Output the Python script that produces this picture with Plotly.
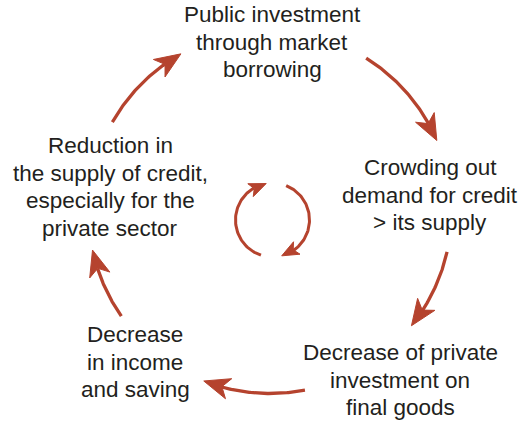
import math
import plotly.graph_objects as go

# ---- content ----
labels = [
    "Public investment<br>through market<br>borrowing",
    "Crowding out<br>demand for credit<br>&gt; its supply",
    "Decrease of private<br>investment on<br>final goods",
    "Decrease<br>in income<br>and saving",
    "Reduction in<br>the supply of credit,<br>especially for the<br>private sector",
]
label_x = [272, 430, 400, 135, 110]
label_y = [42, 195, 380, 362, 187]
LINE_GAP = 27.5

# outer cycle arrows: start / end angle (degrees clockwise from top)
outer_tail_deg = [32.0, 102.7, 168.9, 235.0, 299.7]
outer_tip_deg = [66.8, 128.8, 201.4, 257.9, 330.6]

# inner small cycle arrows
inner_tail_deg = [198.2, 21.7]
inner_tip_deg = [350.2, 165.6]

RED = "rgb(181,67,46)"
TXT = "#231F20"

OUTER = dict(cx=270, cy=212, r=181.5, L=26, hw=10.5, notch=7, lw=3.3)
INNER = dict(cx=272.5, cy=220, r=37, L=17, hw=7, notch=4, lw=3.0)


def pt(c, deg):
    t = math.radians(deg)
    return c["cx"] + c["r"] * math.sin(t), c["cy"] - c["r"] * math.cos(t)


fig = go.Figure()


def add_arrow(c, tail, tip):
    L, hw, notch, r = c["L"], c["hw"], c["notch"], c["r"]
    end_line = tip - math.degrees((L - notch) / r)
    n = 60
    xs, ys = [], []
    for i in range(n + 1):
        a = tail + (end_line - tail) * i / n
        x, y = pt(c, a)
        xs.append(x)
        ys.append(y)
    fig.add_trace(go.Scatter(x=xs, y=ys, mode="lines",
                             line=dict(color=RED, width=c["lw"]),
                             hoverinfo="skip", showlegend=False))
    px, py = pt(c, tip)
    bx, by = pt(c, tip - math.degrees(L / r))
    dx, dy = px - bx, py - by
    d = math.hypot(dx, dy)
    ux, uy = dx / d, dy / d
    nx, ny = -uy, ux
    c1 = (px - L * ux + hw * nx, py - L * uy + hw * ny)
    c2 = (px - L * ux - hw * nx, py - L * uy - hw * ny)
    nn = (px - (L - notch) * ux, py - (L - notch) * uy)
    fig.add_trace(go.Scatter(x=[px, c1[0], nn[0], c2[0], px],
                             y=[py, c1[1], nn[1], c2[1], py],
                             mode="lines", fill="toself", fillcolor=RED,
                             line=dict(color=RED, width=1),
                             hoverinfo="skip", showlegend=False))


for a, b in zip(outer_tail_deg, outer_tip_deg):
    add_arrow(OUTER, a, b)
for a, b in zip(inner_tail_deg, inner_tip_deg):
    add_arrow(INNER, a, b)

for t, x, y in zip(labels, label_x, label_y):
    lines = t.split("<br>")
    n = len(lines)
    for i, line in enumerate(lines):
        fig.add_annotation(x=x, y=y + (i - (n - 1) / 2) * LINE_GAP,
                           xref="x", yref="y", text=line, showarrow=False,
                           xanchor="center", yanchor="middle", align="center",
                           font=dict(family="Liberation Sans, Arial, sans-serif",
                                     size=22.5, color=TXT))

fig.update_layout(
    width=521, height=421,
    margin=dict(l=0, r=0, t=0, b=0),
    paper_bgcolor="white", plot_bgcolor="white",
    xaxis=dict(range=[0, 521], visible=False, fixedrange=True),
    yaxis=dict(range=[421, 0], visible=False, fixedrange=True),
    hovermode=False,
)

fig.write_html("out.html",
               config={"displayModeBar": False, "staticPlot": True},
               post_script="document.body.style.margin='0';document.body.style.overflow='hidden';")
